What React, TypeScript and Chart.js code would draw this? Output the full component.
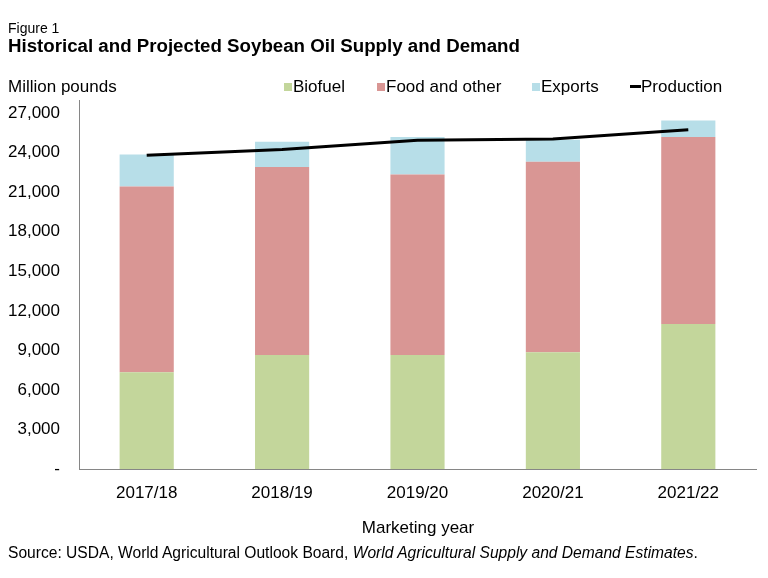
import React, { useEffect, useRef } from "react";
import { Chart, registerables } from "chart.js";

Chart.register(...registerables);

const categories = ["2017/18", "2018/19", "2019/20", "2020/21", "2021/22"];
const biofuel = [7350, 8650, 8650, 8850, 11000];
const foodAndOther = [14080, 14270, 13700, 14470, 14200];
const exportsVals = [2430, 1910, 2840, 1670, 1250];
const production = [23800, 24250, 24950, 25050, 25750];
const yTickValues = [0, 3000, 6000, 9000, 12000, 15000, 18000, 21000, 24000, 27000];
const yMax = 28000;

const FONT = "'Liberation Sans', Arial, sans-serif";

function fmt(v: number): string {
  if (v === 0) return "-";
  return String(Math.round(v)).replace(/\B(?=(\d{3})+(?!\d))/g, ",");
}

export default function App() {
  const ref = useRef<HTMLCanvasElement | null>(null);

  useEffect(() => {
    document.body.style.margin = "0";
    const canvas = ref.current;
    if (!canvas) return;
    const chart = new Chart(canvas, {
      type: "bar",
      data: {
        labels: categories,
        datasets: [
          {
            type: "line",
            label: "Production",
            data: production,
            borderColor: "#000000",
            backgroundColor: "#000000",
            borderWidth: 3,
            pointRadius: 0,
            tension: 0,
            order: 0,
          } as any,
          {
            label: "Biofuel",
            data: biofuel,
            backgroundColor: "#c3d69b",
            stack: "s",
            barPercentage: 0.4,
            categoryPercentage: 1,
            order: 1,
          },
          {
            label: "Food and other",
            data: foodAndOther,
            backgroundColor: "#d99694",
            stack: "s",
            barPercentage: 0.4,
            categoryPercentage: 1,
            order: 1,
          },
          {
            label: "Exports",
            data: exportsVals,
            backgroundColor: "#b7dee8",
            stack: "s",
            barPercentage: 0.4,
            categoryPercentage: 1,
            order: 1,
          },
        ],
      },
      options: {
        responsive: false,
        animation: false,
        layout: { padding: { top: 100, right: 12, left: 0, bottom: 0 } },
        plugins: {
          legend: { display: false },
          title: { display: false },
          tooltip: { enabled: false },
        },
        scales: {
          x: {
            stacked: true,
            grid: { display: false, drawTicks: false },
            border: { display: true, color: "#868686", width: 1 },
            ticks: {
              color: "#000",
              padding: 14,
              font: { family: FONT, size: 17 },
            },
            afterFit: (s: any) => {
              s.height = 578 - 469;
            },
          },
          y: {
            stacked: true,
            min: 0,
            max: yMax,
            grid: { display: false, drawTicks: false },
            border: { display: true, color: "#868686", width: 1 },
            ticks: {
              autoSkip: false,
              color: "#000",
              padding: 19,
              font: { family: FONT, size: 17 },
              callback: (v: any) => fmt(Number(v)),
            },
            afterBuildTicks: (s: any) => {
              s.ticks = yTickValues.map((value) => ({ value }));
            },
            afterFit: (s: any) => {
              s.width = 79;
            },
          },
        },
      },
    });
    return () => chart.destroy();
  }, []);

  const txt: React.CSSProperties = {
    position: "absolute",
    fontFamily: FONT,
    color: "#000",
    whiteSpace: "nowrap",
    lineHeight: 1,
  };
  const box = (c: string): React.CSSProperties => ({
    display: "inline-block",
    width: 8,
    height: 8,
    background: c,
    marginRight: 1,
    verticalAlign: "middle",
    position: "relative",
    top: -1,
  });

  return (
    <div style={{ position: "relative", width: 768, height: 578, background: "#fff" }}>
      <canvas ref={ref} width={768} height={578} style={{ position: "absolute", left: 0, top: 0 }} />
      <div style={{ ...txt, left: 8, top: 21, fontSize: 14 }}>Figure 1</div>
      <div style={{ ...txt, left: 8, top: 37, fontSize: 18.7, fontWeight: "bold" }}>
        Historical and Projected Soybean Oil Supply and Demand
      </div>
      <div style={{ ...txt, left: 8, top: 78, fontSize: 17 }}>Million pounds</div>
      <div style={{ ...txt, left: 284, top: 78, fontSize: 17 }}>
        <span style={box("#c3d69b")} />Biofuel
      </div>
      <div style={{ ...txt, left: 377, top: 78, fontSize: 17 }}>
        <span style={box("#d99694")} />Food and other
      </div>
      <div style={{ ...txt, left: 532, top: 78, fontSize: 17 }}>
        <span style={box("#b7dee8")} />Exports
      </div>
      <div style={{ ...txt, left: 630, top: 78, fontSize: 17 }}>
        <span
          style={{
            display: "inline-block",
            width: 11,
            height: 3,
            background: "#000",
            verticalAlign: "middle",
            position: "relative",
            top: -1,
          }}
        />
        Production
      </div>
      <div style={{ ...txt, left: 418, top: 519, fontSize: 17, transform: "translateX(-50%)" }}>
        Marketing year
      </div>
      <div style={{ ...txt, left: 8, top: 545, fontSize: 15.6 }}>
        Source: USDA, World Agricultural Outlook Board,{" "}
        <i>World Agricultural Supply and Demand Estimates</i>.
      </div>
    </div>
  );
}
